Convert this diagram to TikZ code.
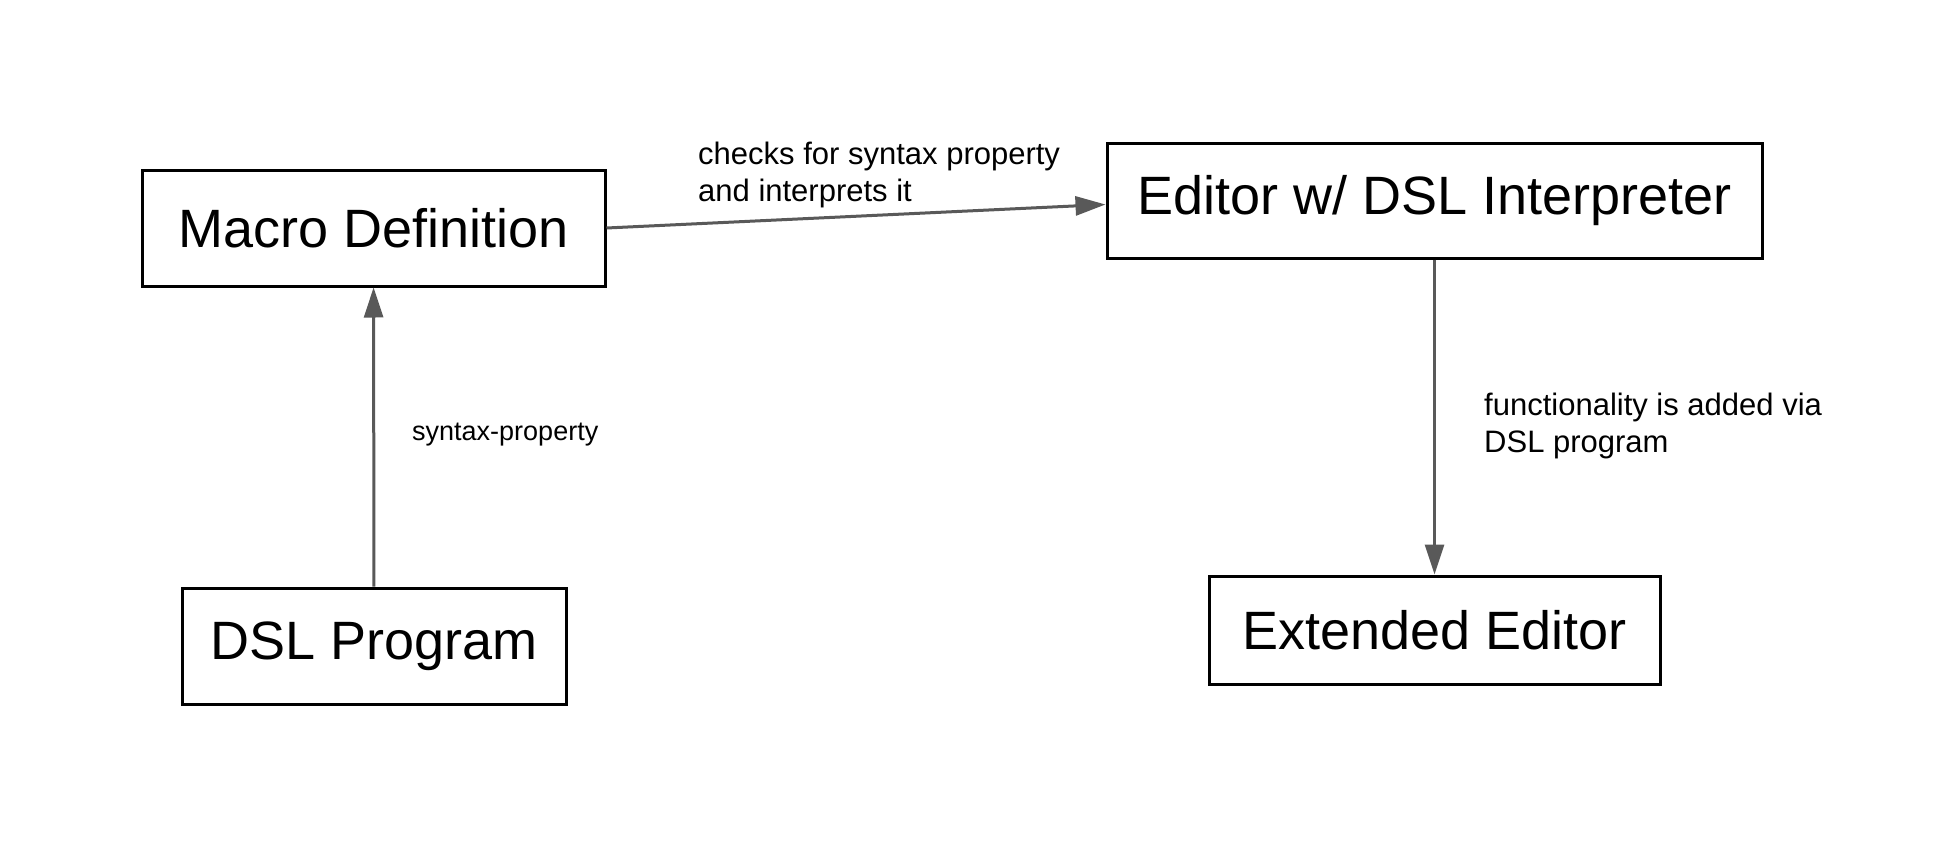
\documentclass[tikz,border=0pt]{standalone}
\usepackage{fontspec}
\setmainfont{Liberation Sans}
\usetikzlibrary{arrows.meta}
\definecolor{linegray}{HTML}{595959}
\tikzstyle{block}=[draw=black, line width=3pt, rectangle, inner sep=0pt,
font=\fontsize{54}{64}\selectfont]
\tikzstyle{note}=[inner sep=0pt, align=left, font=\fontsize{31}{37}\selectfont]
\tikzstyle{link}=[draw=linegray, line width=3pt,
-{Triangle[length=30pt,width=19pt]}]

\begin{document}
\begin{tikzpicture}[x=1pt,y=-1pt]
\useasboundingbox (0,0) rectangle (1942,864);
\node[block, minimum width=463pt, minimum height=116pt](macro) at (373.5,228) {Macro Definition};
\node[block, minimum width=655pt, minimum height=115pt](editor) at (1434.5,200.5) {Editor w/ DSL Interpreter};
\node[block, minimum width=384pt, minimum height=116pt](dsl) at (374,646) {DSL Program};
\node[block, minimum width=451pt, minimum height=108pt](extended) at (1434.5,630) {Extended Editor};
\draw [link](dsl) -- (macro);
\draw [link](macro.east) -- ([yshift=-4pt]editor.west);
\draw [link](editor) -- (extended);
\node[note, anchor=north west](checks) at (698,142) {checks for syntax property\\and interprets it};
\node[note, anchor=base west, font=\fontsize{27}{32}\selectfont](syntax) at (412,440) {syntax-property};
\node[note, anchor=north west](added) at (1484,393) {functionality is added via\\DSL program};
\end{tikzpicture}
\end{document}
